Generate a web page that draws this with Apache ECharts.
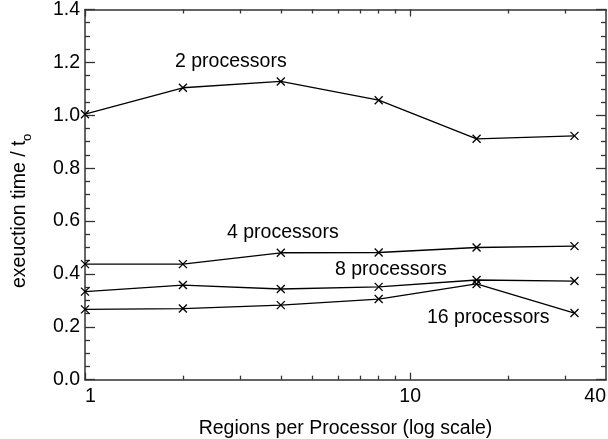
<!DOCTYPE html>
<html>
<head>
<meta charset="utf-8">
<script src="https://cdn.jsdelivr.net/npm/echarts@6/dist/echarts.min.js"></script>
<style>
html,body{margin:0;padding:0;background:#fff;}
#chart{width:608px;height:439px;}
</style>
</head>
<body>
<div id="chart"></div>
<script>
// ---- data ----
const regionsPerProcessor = [1, 2, 4, 8, 16, 32];
const proc2  = [1.004, 1.104, 1.128, 1.057, 0.911, 0.922];
const proc4  = [0.437, 0.437, 0.480, 0.481, 0.500, 0.505];
const proc8  = [0.333, 0.358, 0.343, 0.351, 0.377, 0.373];
const proc16 = [0.266, 0.269, 0.282, 0.305, 0.362, 0.252];
const seriesNames = ['2 processors', '4 processors', '8 processors', '16 processors'];
const xMajorTicks = [1, 10];
const xMinorTicks = [2, 3, 4, 5, 6, 7, 8, 9, 20, 30];
const xTickLabels = [1, 10, 40];
const xMin = 1, xMax = 40;
const yMin = 0, yMax = 1.4, yInterval = 0.2;
const xTitle = 'Regions per Processor (log scale)';
const yTitle = 'exeuction time / t';
const yTitleSub = 'o';

const FONT = 'Liberation Sans, Arial, Helvetica, sans-serif';
const FS = 19.5;
const AXIS_COLOR = '#333';

function pairs(ys) { return regionsPerProcessor.map((x, i) => [x, ys[i]]); }

function xAxisDef(position, major, showLabels, showLine) {
  return {
    type: 'log', logBase: 10, min: xMin, max: xMax, position: position,
    axisLine: { show: showLine, onZero: false, lineStyle: { color: AXIS_COLOR, width: 1.5 } },
    axisTick: { show: true, inside: true, length: major ? 7 : 4,
      customValues: major ? xMajorTicks : xMinorTicks,
      lineStyle: { color: AXIS_COLOR, width: 1.3 } },
    axisLabel: { show: showLabels, customValues: xTickLabels, margin: 7,
      alignMinLabel: 'left', alignMaxLabel: 'right',
      color: '#000', fontSize: FS, fontFamily: FONT },
    splitLine: { show: false },
    name: showLabels ? xTitle : '',
    nameLocation: 'middle', nameGap: 39,
    nameTextStyle: { color: '#000', fontSize: FS, fontFamily: FONT }
  };
}

function yAxisDef(position, showLabels) {
  return {
    type: 'value', min: yMin, max: yMax, interval: yInterval, position: position,
    axisLine: { show: true, onZero: false, lineStyle: { color: AXIS_COLOR, width: 1.5 } },
    axisTick: { show: true, inside: true, length: 10, lineStyle: { color: AXIS_COLOR, width: 1.3 } },
    minorTick: { show: true, splitNumber: 4, length: 5, lineStyle: { color: AXIS_COLOR, width: 1.3 } },
    axisLabel: { show: showLabels, margin: 5, color: '#000', fontSize: FS, fontFamily: FONT,
      formatter: v => v.toFixed(1) },
    splitLine: { show: false }, minorSplitLine: { show: false }
  };
}

const cross = 'path://M0,0L10,10M0,10L10,0';
function lineSeries(name, ys) {
  return {
    type: 'line', name: name, data: pairs(ys), xAxisIndex: 0, yAxisIndex: 0,
    symbol: cross, symbolSize: 8, showSymbol: true, clip: true,
    lineStyle: { color: '#000', width: 1.3 },
    itemStyle: { color: '#000', borderColor: '#000', borderWidth: 1.3 },
    emphasis: { disabled: true }, silent: true
  };
}

function label(text, x, y) {
  return { type: 'text', x: x, y: y, silent: true,
    style: { text: text, fill: '#000', fontSize: FS, fontFamily: FONT, align: 'left', verticalAlign: 'middle' } };
}

const chart = echarts.init(document.getElementById('chart'), null, { renderer: 'canvas' });
chart.setOption({
  animation: false,
  backgroundColor: '#fff',
  grid: { left: 85, right: 2, top: 9.5, bottom: 59.3, containLabel: false, outerBoundsMode: 'none' },
  xAxis: [
    xAxisDef('bottom', true, true, true),
    xAxisDef('bottom', false, false, false),
    xAxisDef('top', true, false, true),
    xAxisDef('top', false, false, false)
  ],
  yAxis: [ yAxisDef('left', true), yAxisDef('right', false) ],
  series: [
    lineSeries(seriesNames[0], proc2),
    lineSeries(seriesNames[1], proc4),
    lineSeries(seriesNames[2], proc8),
    lineSeries(seriesNames[3], proc16)
  ],
  graphic: [
    label(seriesNames[0], 175, 62),
    label(seriesNames[1], 227, 233),
    label(seriesNames[2], 335, 270),
    label(seriesNames[3], 427, 318),
    { type: 'text', x: 20, y: 288, rotation: Math.PI / 2, silent: true,
      style: { text: yTitle, fill: '#000', fontSize: FS, fontFamily: FONT, align: 'left', verticalAlign: 'middle' } },
    { type: 'text', x: 27, y: 141, rotation: Math.PI / 2, silent: true,
      style: { text: yTitleSub, fill: '#000', fontSize: 13, fontFamily: FONT, align: 'left', verticalAlign: 'middle' } }
  ]
});
</script>
</body>
</html>
